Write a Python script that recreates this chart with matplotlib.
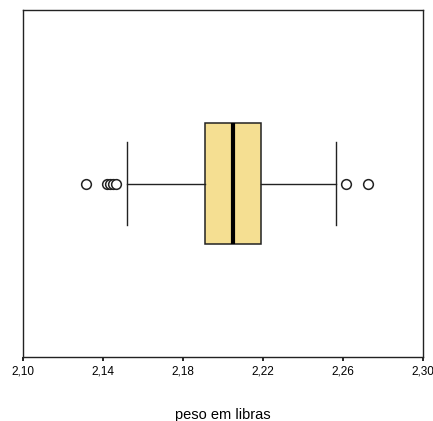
import matplotlib
matplotlib.use("Agg")
import matplotlib.pyplot as plt

# Values
q1 = 2.1911
median = 2.2049
q3 = 2.2188
whisker_low = 2.1521
whisker_high = 2.2566
outliers = [2.1313, 2.1418, 2.1433, 2.1448, 2.1463, 2.2616, 2.2724]

tick_values = [2.10, 2.14, 2.18, 2.22, 2.26, 2.30]
tick_labels = ["2,10", "2,14", "2,18", "2,22", "2,26", "2,30"]

plt.rcParams['font.family'] = ['Liberation Sans', 'DejaVu Sans']

fig = plt.figure(figsize=(4.33, 4.21), dpi=100)
ax = fig.add_axes([0.054, 0.152, 0.923, 0.824])

stats = [{
    'med': median, 'q1': q1, 'q3': q3,
    'whislo': whisker_low, 'whishi': whisker_high,
    'fliers': outliers,
}]
ax.bxp(stats, positions=[1], widths=0.349, capwidths=0.239,
       orientation='horizontal', patch_artist=True,
       boxprops=dict(facecolor='#F5DF92', edgecolor='#222222', linewidth=1.1),
       medianprops=dict(color='black', linewidth=3),
       whiskerprops=dict(color='#222222', linewidth=1),
       capprops=dict(color='#222222', linewidth=1),
       flierprops=dict(marker='o', markerfacecolor='white',
                       markeredgecolor='#222222', markersize=7, markeredgewidth=1.1))

ax.set_xlim(2.10, 2.30)
ax.set_ylim(0.5, 1.5)
ax.set_yticks([])
ax.set_xticks(tick_values)
ax.set_xticklabels(tick_labels, fontsize=8.5)
ax.tick_params(axis='x', direction='out', length=3, width=1.2, pad=3)
for side in ax.spines.values():
    side.set_linewidth(1)
    side.set_color('#222222')

ax.set_xlabel("peso em libras", fontsize=10.5, labelpad=22)

fig.savefig("out.png", dpi=100)
